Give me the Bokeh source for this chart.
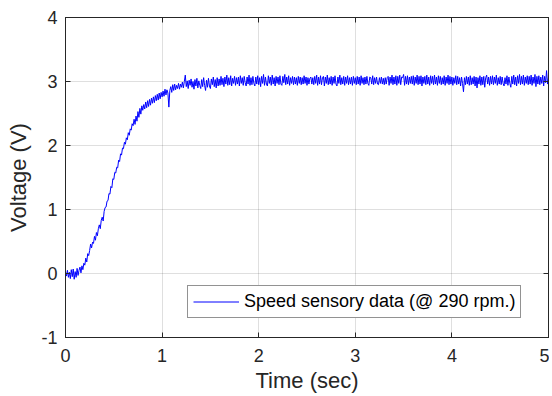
from bokeh.plotting import figure
from bokeh.models import Range1d, LinearAxis, FixedTicker, Legend, LegendItem, ColumnDataSource
from bokeh.embed import file_html
from bokeh.resources import INLINE

# Sensor samples, one every 0.01 s from t = 0.00 to 5.00 s
sample_period = 0.01
voltage = [
    0.03, -0.04, 0.05, -0.06, 0.02, -0.08, 0.06, -0.05, 0.07, -0.09, 0.03, -0.06, 0.08, -0.03, 0.05, 0.10, 0.01, 0.12, 0.06, 0.16,
    0.13, 0.24, 0.18, 0.31, 0.28, 0.36, 0.46, 0.40, 0.49, 0.47, 0.58, 0.52, 0.64, 0.59, 0.70, 0.76, 0.70, 0.83, 0.88, 0.82,
    0.97, 1.03, 1.04, 1.13, 1.14, 1.25, 1.24, 1.36, 1.34, 1.48, 1.47, 1.58, 1.57, 1.66, 1.65, 1.77, 1.75, 1.87, 1.85, 1.96,
    1.95, 2.05, 2.02, 2.12, 2.09, 2.20, 2.16, 2.26, 2.24, 2.34, 2.31, 2.41, 2.33, 2.46, 2.38, 2.53, 2.44, 2.58, 2.49, 2.62,
    2.55, 2.64, 2.57, 2.68, 2.59, 2.70, 2.61, 2.72, 2.63, 2.74, 2.66, 2.76, 2.67, 2.78, 2.70, 2.80, 2.71, 2.82, 2.73, 2.83,
    2.76, 2.85, 2.77, 2.88, 2.79, 2.87, 2.82, 2.60, 2.86, 2.92, 2.83, 2.95, 2.86, 2.96, 2.87, 2.94, 2.89, 2.97, 2.88, 2.96,
    2.91, 2.99, 2.90, 3.00, 3.10, 2.92, 3.01, 2.89, 3.02, 2.94, 3.04, 2.91, 3.00, 2.88, 3.03, 2.93, 3.05, 2.90, 3.01, 2.94,
    2.89, 3.03, 2.92, 3.06, 2.94, 2.86, 3.02, 2.91, 3.05, 2.93, 2.89, 3.04, 2.95, 3.07, 2.92, 3.03, 2.90, 3.06, 2.93, 3.04,
    2.94, 3.08, 2.95, 3.05, 2.92, 3.07, 2.96, 3.10, 2.94, 3.06, 2.95, 3.09, 2.93, 3.05, 2.97, 3.08, 2.94, 3.06, 2.96, 3.07,
    2.93, 3.09, 2.97, 3.06, 2.94, 3.08, 2.98, 2.93, 3.07, 2.96, 3.10, 2.94, 3.06, 2.95, 3.08, 2.97, 2.93, 3.07, 2.96, 3.09,
    2.95, 3.06, 2.92, 3.08, 2.97, 3.11, 2.94, 3.07, 2.96, 2.93, 3.09, 2.97, 3.07, 2.94, 3.10, 2.96, 3.06, 2.93, 3.08, 2.97,
    3.07, 2.95, 3.09, 2.96, 2.94, 3.08, 2.98, 3.11, 2.95, 3.07, 2.96, 3.09, 2.94, 3.06, 2.97, 3.08, 2.95, 3.07, 2.96, 3.06,
    2.94, 3.08, 2.97, 3.07, 2.95, 3.06, 2.96, 3.09, 2.97, 3.07, 2.94, 3.06, 2.96, 3.05, 3.07, 2.96, 3.06, 2.95, 3.08, 2.97,
    3.10, 2.94, 3.07, 2.96, 3.09, 2.95, 3.06, 3.08, 2.93, 3.07, 2.97, 3.10, 2.95, 3.06, 2.96, 3.08, 2.94, 3.07, 2.97, 3.09,
    2.96, 2.93, 3.07, 2.97, 3.10, 2.95, 3.06, 2.96, 3.08, 2.94, 3.07, 2.97, 3.09, 2.95, 3.06, 2.96, 3.07, 2.94, 3.08, 2.97,
    3.06, 2.95, 3.08, 2.96, 3.07, 2.94, 3.09, 2.97, 3.06, 2.95, 3.07, 2.96, 3.08, 2.97, 2.94, 3.07, 3.06, 2.96, 3.09, 2.95,
    3.06, 2.97, 3.07, 2.96, 2.95, 3.06, 2.97, 3.07, 2.96, 3.05, 2.95, 3.06, 2.96, 3.06, 3.08, 2.94, 3.07, 2.97, 3.10, 2.95,
    3.07, 2.96, 3.09, 2.94, 3.08, 2.97, 3.10, 2.95, 3.07, 3.06, 3.11, 2.94, 3.08, 2.96, 3.09, 2.95, 3.07, 2.97, 3.08, 2.96,
    3.09, 2.94, 3.07, 2.97, 3.10, 2.95, 3.08, 2.96, 3.09, 2.93, 3.07, 2.97, 3.08, 2.95, 3.10, 2.96, 3.07, 2.94, 3.09, 2.97,
    3.08, 2.95, 3.10, 2.96, 3.07, 2.94, 3.09, 2.97, 3.08, 2.95, 3.06, 2.96, 3.09, 2.94, 3.07, 2.97, 3.10, 2.95, 3.08, 2.96,
    3.07, 2.94, 3.06, 2.97, 3.09, 2.95, 3.08, 2.96, 3.06, 2.93, 3.07, 2.97, 2.84, 3.06, 2.95, 3.08, 2.96, 3.07, 2.94, 3.09,
    2.95, 3.06, 2.96, 3.08, 2.93, 3.07, 2.90, 3.06, 2.96, 3.09, 2.94, 3.07, 2.95, 3.08, 2.91, 3.06, 3.10, 2.96, 3.07, 2.94,
    3.08, 2.96, 3.09, 2.95, 3.07, 2.97, 3.10, 2.94, 3.06, 2.96, 3.08, 2.95, 3.07, 2.97, 2.93, 3.06, 2.96, 3.09, 2.94, 3.07,
    2.97, 2.91, 3.08, 2.96, 3.10, 2.95, 3.07, 2.93, 3.09, 2.97, 3.11, 2.95, 3.08, 2.96, 3.10, 2.94, 3.07, 2.97, 3.09, 2.95,
    3.08, 2.96, 3.10, 2.94, 3.07, 2.97, 3.11, 2.92, 3.08, 2.96, 3.09, 2.95, 3.07, 2.97, 3.10, 2.93, 3.08, 2.98, 3.17, 2.96,
    3.06,
]
time = [i * sample_period for i in range(len(voltage))]

x_ticks = [0, 1, 2, 3, 4, 5]
y_ticks = [-1, 0, 1, 2, 3, 4]
y_tick_text = {-1: "-1", 0: "0", 1: "1", 2: "2", 3: "3", 4: "4"}
x_label = "Time (sec)"
y_label = "Voltage (V)"
legend_label = "Speed sensory data (@ 290 rpm.)"

FONT = "Liberation Sans"
DARK = "#262626"

p = figure(width=549, height=396, output_backend="svg", toolbar_location=None,
           x_range=Range1d(0, 5), y_range=Range1d(-1, 4),
           min_border_left=65, min_border_right=1, min_border_top=17, min_border_bottom=59,
           background_fill_color="white", border_fill_color="white")
p.outline_line_color = DARK
p.outline_line_width = 1

src = ColumnDataSource(dict(t=time, v=voltage))
r = p.line("t", "v", source=src, line_color="#0000ff", line_width=1)

p.xaxis.ticker = FixedTicker(ticks=x_ticks)
p.yaxis.ticker = FixedTicker(ticks=y_ticks)
p.yaxis.major_label_overrides = y_tick_text
for ax in [p.xaxis[0], p.yaxis[0]]:
    ax.axis_line_color = DARK
    ax.major_tick_line_color = DARK
    ax.major_tick_in = 5
    ax.major_tick_out = 0
    ax.minor_tick_line_color = None
    ax.major_label_text_font = FONT
    ax.major_label_text_color = DARK
    ax.major_label_text_font_size = "18px"
    ax.axis_label_text_font = FONT
    ax.axis_label_text_color = DARK
    ax.axis_label_text_font_size = "22px"
    ax.axis_label_text_font_style = "normal"
p.xaxis.axis_label = x_label
p.yaxis.axis_label = y_label
p.xaxis.major_label_standoff = 11
p.xaxis.axis_label_standoff = 3
p.yaxis.major_label_standoff = 8
p.yaxis.axis_label_standoff = 7

top = LinearAxis(ticker=FixedTicker(ticks=x_ticks))
right = LinearAxis(ticker=FixedTicker(ticks=y_ticks))
for ax in (top, right):
    ax.axis_line_color = DARK
    ax.major_tick_line_color = DARK
    ax.major_tick_in = 5
    ax.major_tick_out = 0
    ax.minor_tick_line_color = None
    ax.major_label_text_font_size = "0px"
    ax.major_label_text_color = None
    ax.major_label_standoff = 0
p.add_layout(top, "above")
p.add_layout(right, "right")

p.xgrid.ticker = FixedTicker(ticks=x_ticks)
p.ygrid.ticker = FixedTicker(ticks=y_ticks)
p.grid.grid_line_color = "#262626"
p.grid.grid_line_alpha = 0.15
p.grid.grid_line_width = 1

legend = Legend(items=[LegendItem(label=legend_label, renderers=[r])],
                location=(122, 19))
legend.margin = 0
legend.padding = 5
legend.spacing = 0
legend.glyph_width = 46
legend.glyph_height = 15
legend.label_height = 15
legend.label_standoff = 5
legend.label_text_font = FONT
legend.label_text_font_size = "18px"
legend.label_text_color = "black"
legend.border_line_color = DARK
legend.border_line_width = 1
legend.background_fill_color = "white"
legend.background_fill_alpha = 1
p.add_layout(legend, "center")

open("out.html", "w").write(file_html(p, INLINE))
